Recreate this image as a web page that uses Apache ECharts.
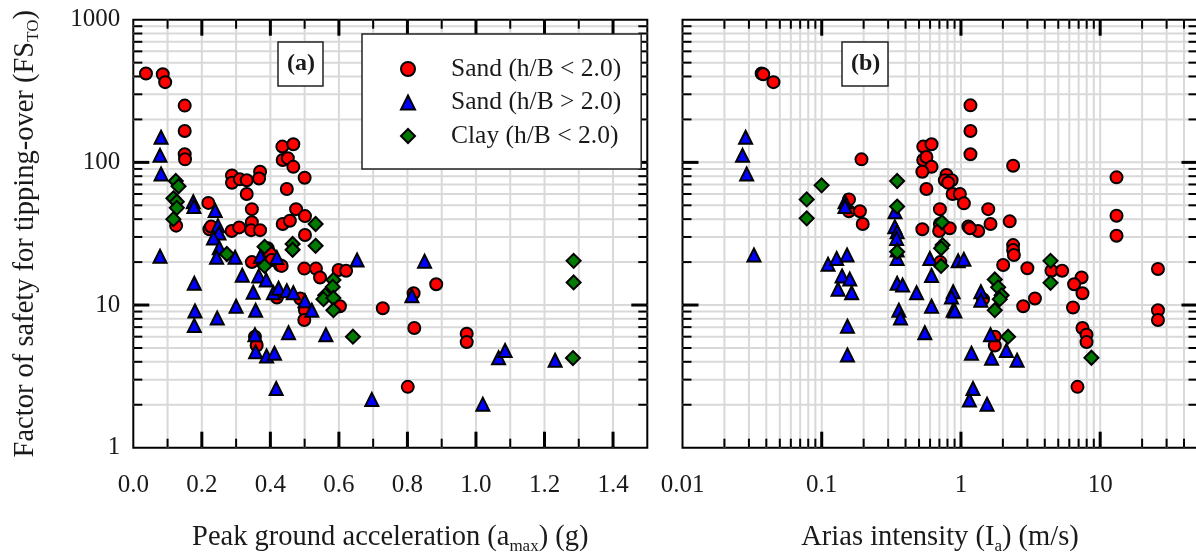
<!DOCTYPE html>
<html><head><meta charset="utf-8">
<script src="https://cdn.jsdelivr.net/npm/echarts@6/dist/echarts.min.js"></script>
<style>html,body{margin:0;padding:0;background:#fff}#c{width:1196px;height:554px}</style>
</head><body><div id="c"></div><script>
const FONT = 'Liberation Serif';
const SERIES_NAMES = ['Sand (h/B < 2.0)', 'Sand (h/B > 2.0)', 'Clay (h/B < 2.0)'];

// ---- Panel (a): peak ground acceleration (g) vs FS_TO ----
const pgaSandLow = [[0.037,420],[0.086,415],[0.093,365],[0.150,250],[0.150,166],[0.150,114],[0.151,105],[0.125,36],[0.219,52],[0.222,34],[0.227,35.5],[0.288,81],[0.288,72],[0.311,76],[0.331,75],[0.370,86],[0.367,77],[0.331,60],[0.346,47],[0.287,33],[0.309,35],[0.346,38],[0.344,33.5],[0.370,33.5],[0.346,20],[0.355,6.0],[0.360,5.2],[0.392,25],[0.399,23],[0.404,20.7],[0.428,19],[0.433,18.8],[0.419,11.3],[0.435,129],[0.467,134],[0.436,104],[0.451,107],[0.467,93],[0.448,65],[0.500,78],[0.475,47],[0.501,42],[0.436,37],[0.457,39],[0.501,31],[0.499,18],[0.533,18],[0.545,15.6],[0.599,17.6],[0.621,17.4],[0.487,11.1],[0.501,9.2],[0.499,7.85],[0.603,9.8],[0.728,9.5],[0.818,12.1],[0.820,6.9],[0.801,2.67],[0.884,14],[0.973,6.3],[0.973,5.5]];
const pgaSandHigh = [[0.081,150],[0.078,112],[0.081,83],[0.078,22],[0.175,53],[0.177,49],[0.178,14.2],[0.180,9.1],[0.178,7.2],[0.239,46],[0.247,36],[0.250,32],[0.234,29.5],[0.251,25.2],[0.243,21.6],[0.297,21.6],[0.245,8.1],[0.300,9.8],[0.357,9.2],[0.318,16.2],[0.350,12.3],[0.371,22],[0.366,16],[0.388,15],[0.419,21.5],[0.409,12.2],[0.424,13.1],[0.448,12.6],[0.467,12.2],[0.501,10.7],[0.521,9.2],[0.355,6.2],[0.357,4.7],[0.389,4.4],[0.412,4.6],[0.417,2.6],[0.453,6.4],[0.562,6.2],[0.653,20.7],[0.850,20.3],[0.813,11.6],[0.696,2.18],[1.020,2.02],[1.066,4.27],[1.085,4.8],[1.231,4.1]];
const pgaClay = [[0.124,74],[0.132,68],[0.117,56],[0.127,53],[0.127,48],[0.117,40],[0.273,22.8],[0.383,25.6],[0.383,18.8],[0.465,26.8],[0.465,24.4],[0.532,37],[0.532,26],[0.584,15],[0.582,13.4],[0.560,11.7],[0.555,11.0],[0.584,11.2],[0.584,9.2],[0.641,6.0],[1.285,20.4],[1.285,14.4],[1.283,4.25]];

// ---- Panel (b): Arias intensity (m/s) vs FS_TO ----
const ariasSandLow = [[0.037,420],[0.038,415],[0.045,365],[1.17,251],[1.17,166],[1.17,114],[0.193,105],[0.157,55],[0.157,45.4],[0.188,45.4],[0.197,37],[0.536,129],[0.615,134],[0.536,104],[0.565,109],[0.615,93],[0.528,86],[0.565,65],[2.37,94.6],[13.1,78.5],[13.1,42.3],[13.1,30.6],[0.787,81.5],[0.766,75],[0.857,75],[0.81,72],[0.871,60],[0.982,60],[1.05,51.6],[0.706,47],[1.57,47],[2.24,38.6],[1.63,37],[0.528,34],[1.13,35.5],[1.33,33],[0.706,37],[0.697,33],[0.83,34.5],[1.16,34.5],[2.37,26.3],[2.37,24.3],[2.4,22.4],[2.01,19.1],[3.0,18.1],[4.47,17.4],[5.33,17.4],[7.35,15.6],[6.5,14],[7.46,12.1],[6.38,9.6],[7.46,6.9],[7.98,6.2],[7.98,5.5],[6.87,2.67],[26,17.9],[26,9.2],[26,7.85],[2.8,9.8],[3.4,11.1],[1.75,6.0],[1.75,5.2],[1.44,11.0],[0.71,20]];
const ariasSandHigh = [[0.0284,150],[0.0270,112],[0.0289,83],[0.0326,22.4],[0.147,53],[0.147,49],[0.336,45],[0.111,19.3],[0.128,21.2],[0.152,22.4],[0.140,16],[0.159,15.2],[0.131,12.9],[0.164,12.2],[0.153,7.1],[0.153,4.47],[0.335,35.4],[0.348,32.6],[0.345,29.3],[0.348,24.3],[0.348,21.2],[0.348,14.2],[0.381,13.8],[0.358,9.2],[0.368,8.1],[0.48,12.2],[0.598,21.2],[0.615,16.1],[0.615,9.8],[0.55,6.4],[0.955,20.4],[1.05,20.9],[0.879,12.4],[0.855,11.4],[0.879,9.2],[0.904,9.1],[1.39,12.4],[1.39,10.8],[1.63,6.2],[1.19,4.6],[1.66,4.23],[2.12,4.8],[2.53,4.1],[1.22,2.6],[1.15,2.16],[1.54,2.02]];
const ariasClay = [[0.078,55],[0.078,40.5],[0.0998,69],[0.348,74],[0.348,49],[0.348,23.6],[0.73,38],[0.738,26.3],[0.72,25],[0.72,18.8],[1.75,15.1],[1.85,13.3],[1.96,11.7],[1.90,11.0],[1.75,9.2],[2.18,6.0],[4.40,20.4],[4.40,14.3],[8.65,4.27]];

// ---- Axis tick / grid positions ----
const pgaTicks = [0.1,0.2,0.3,0.4,0.5,0.6,0.7,0.8,0.9,1.0,1.1,1.2,1.3,1.4];
const pgaMajor = [0.2,0.4,0.6,0.8,1.0,1.2,1.4];
const fsTicks = [2,3,4,5,6,7,8,9,10,20,30,40,50,60,70,80,90,100,200,300,400,500,600,700,800,900];
const fsMajor = [10,100];
const ariasTicks = [0.02,0.03,0.04,0.05,0.06,0.07,0.08,0.09,0.1,0.2,0.3,0.4,0.5,0.6,0.7,0.8,0.9,1,2,3,4,5,6,7,8,9,10,20,30,40];
const ariasMajor = [0.1,1,10];

const GRID_COLOR = '#d9d9d9';
const TXT = '#1a1a1a';

function renderLines(dir, kind) {
  return function (params, api) {
    const cs = params.coordSys;
    const p = api.coord([api.value(0), api.value(1)]);
    const major = api.value(2) === 1;
    const L = major ? 16 : 9, w = major ? 3 : 2;
    if (dir === 'v') {
      const x = p[0];
      if (kind === 'grid') return {type:'line', shape:{x1:x,y1:cs.y,x2:x,y2:cs.y+cs.height}, style:{stroke:GRID_COLOR,lineWidth:2}};
      return {type:'group', children:[
        {type:'line', shape:{x1:x,y1:cs.y+cs.height,x2:x,y2:cs.y+cs.height-L}, style:{stroke:'#000',lineWidth:w}},
        {type:'line', shape:{x1:x,y1:cs.y,x2:x,y2:cs.y+L}, style:{stroke:'#000',lineWidth:w}}]};
    } else {
      const y = p[1];
      if (kind === 'grid') return {type:'line', shape:{x1:cs.x,y1:y,x2:cs.x+cs.width,y2:y}, style:{stroke:GRID_COLOR,lineWidth:2}};
      return {type:'group', children:[
        {type:'line', shape:{x1:cs.x,y1:y,x2:cs.x+L,y2:y}, style:{stroke:'#000',lineWidth:w}},
        {type:'line', shape:{x1:cs.x+cs.width,y1:y,x2:cs.x+cs.width-L,y2:y}, style:{stroke:'#000',lineWidth:w}}]};
    }
  };
}

function lineSeries(idx, xTicks, xMajor, yTicks, yMajor, xAnchor, yAnchor) {
  const vData = xTicks.map(v => [v, yAnchor, xMajor.includes(v) ? 1 : 0]);
  const hData = yTicks.map(v => [xAnchor, v, yMajor.includes(v) ? 1 : 0]);
  const base = {type:'custom', xAxisIndex:idx, yAxisIndex:idx, silent:true, animation:false, tooltip:{show:false}};
  return [
    Object.assign({}, base, {data:vData, renderItem:renderLines('v','grid'), z:1}),
    Object.assign({}, base, {data:hData, renderItem:renderLines('h','grid'), z:1}),
    Object.assign({}, base, {data:vData, renderItem:renderLines('v','tick'), z:2}),
    Object.assign({}, base, {data:hData, renderItem:renderLines('h','tick'), z:2})
  ];
}

const symbols = ['circle','triangle','diamond'];
const colors = ['#ff0000','#0000ff','#007a00'];
const sizes = [12, 13, 14];
function scatter(idx, k, data) {
  return {type:'scatter', name:SERIES_NAMES[k], xAxisIndex:idx, yAxisIndex:idx, data:data,
    symbol:symbols[k], symbolSize:sizes[k], z:3, animation:false,
    itemStyle:{color:colors[k], borderColor:'#000', borderWidth:2, opacity:1}};
}

const labelStyle = {fontFamily:FONT, fontSize:25, color:TXT};
const nameRich = {
  n:{fontFamily:FONT, fontSize:28.5, color:TXT, lineHeight:34},
  sub:{fontFamily:FONT, fontSize:17, color:TXT, lineHeight:17, verticalAlign:'bottom'}
};
const fmt = v => String(Number(Number(v).toPrecision(6)));

const option = {
  backgroundColor:'#fff',
  animation:false,
  title:[
    {text:'(a)', left:278, top:42, padding:[8,8,8,9], borderColor:'#222', borderWidth:1.5, backgroundColor:'#fff',
     textStyle:{fontFamily:FONT, fontSize:24, fontWeight:'bold', color:TXT, lineHeight:28}},
    {text:'(b)', left:842, top:42, padding:[8,8,8,9], borderColor:'#222', borderWidth:1.5, backgroundColor:'#fff',
     textStyle:{fontFamily:FONT, fontSize:24, fontWeight:'bold', color:TXT, lineHeight:28}}
  ],
  legend:{
    data:SERIES_NAMES, orient:'vertical', left:362, top:34, padding:[20,20,18,38], itemGap:3.5,
    itemWidth:14, itemHeight:14, borderColor:'#222', borderWidth:1.5, backgroundColor:'#fff',
    textStyle:{fontFamily:FONT, fontSize:25.5, color:TXT, lineHeight:30, padding:[0,0,0,31]}
  },
  grid:[
    {left:133.3, top:19.7, width:514, height:428, outerBoundsMode:'none', containLabel:false, show:true, borderColor:'#000', borderWidth:2, backgroundColor:'#fff'},
    {left:682.5, top:19.7, width:515, height:428, outerBoundsMode:'none', containLabel:false, show:true, borderColor:'#000', borderWidth:2, backgroundColor:'#fff'}
  ],
  xAxis:[
    {gridIndex:0, type:'value', min:0, max:1.5, interval:0.2,
     axisLine:{show:false}, axisTick:{show:false}, splitLine:{show:false},
     axisLabel:Object.assign({margin:25, showMaxLabel:false, formatter:v => Number(v).toFixed(1)}, labelStyle),
     name:'{n|Peak ground acceleration (a}{sub|max}{n|) (g)}', nameLocation:'middle', nameGap:73,
     nameTextStyle:{rich:nameRich}},
    {gridIndex:1, type:'log', logBase:10, min:0.01, max:50,
     axisLine:{show:false}, axisTick:{show:false}, splitLine:{show:false},
     axisLabel:Object.assign({margin:25, showMaxLabel:false, formatter:fmt}, labelStyle),
     name:'{n|Arias intensity (I}{sub|a}{n|) (m/s)}', nameLocation:'middle', nameGap:73,
     nameTextStyle:{rich:nameRich}}
  ],
  yAxis:[
    {gridIndex:0, type:'log', logBase:10, min:1, max:1000,
     axisLine:{show:false}, axisTick:{show:false}, splitLine:{show:false},
     axisLabel:Object.assign({margin:13, padding:[4,0,0,0], formatter:fmt}, labelStyle),
     name:'{n|Factor of safety for tipping-over (FS}{sub|TO}{n|)}', nameLocation:'middle', nameGap:91,
     nameTextStyle:{rich:nameRich}},
    {gridIndex:1, type:'log', logBase:10, min:1, max:1000,
     axisLine:{show:false}, axisTick:{show:false}, splitLine:{show:false},
     axisLabel:{show:false}}
  ],
  series:[].concat(
    lineSeries(0, pgaTicks, pgaMajor, fsTicks, fsMajor, 0, 1),
    lineSeries(1, ariasTicks, ariasMajor, fsTicks, fsMajor, 0.01, 1),
    [scatter(0,0,pgaSandLow), scatter(0,1,pgaSandHigh), scatter(0,2,pgaClay),
     scatter(1,0,ariasSandLow), scatter(1,1,ariasSandHigh), scatter(1,2,ariasClay)]
  )
};
const chart = echarts.init(document.getElementById('c'));
chart.setOption(option);
</script></body></html>
